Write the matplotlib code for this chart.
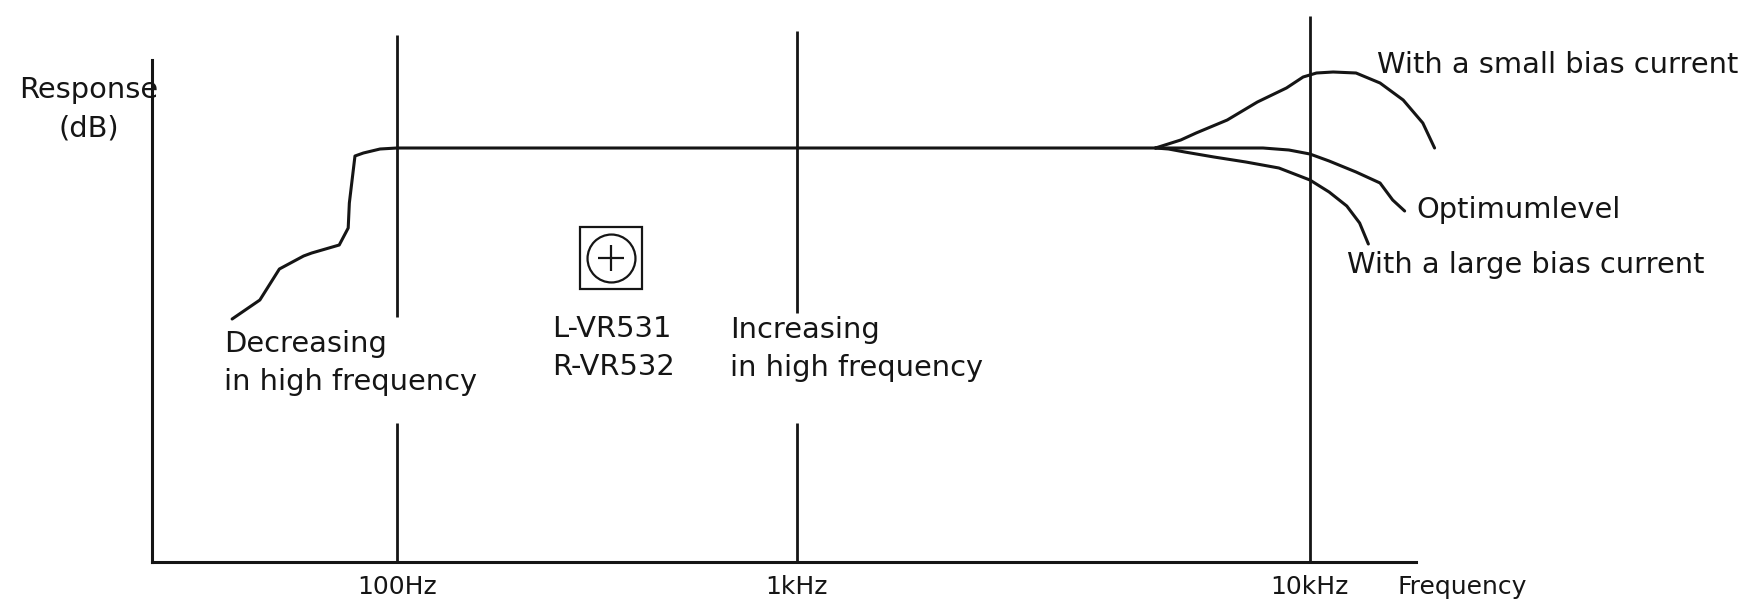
import numpy as np
import matplotlib
matplotlib.use("Agg")
import matplotlib.pyplot as plt
from matplotlib import transforms

# playback response: low-end roll-off, then flat until the bias curves split
base_freq = [38.7, 45.4, 50.8, 58.4, 61.2, 71.7, 75.5, 76, 78.5, 82.4, 90.7, 100, 5000]
base_db = [-8.55, -7.6, -6.05, -5.4, -5.25, -4.85, -4.0, -2.75, -0.4, -0.25, -0.05, 0, 0]

small_freq = [5000, 5600, 6000, 6900, 7900, 9000, 9700, 10300, 11100, 12300, 13700, 15200, 16600, 17500]
small_db = [0.0, 0.4, 0.75, 1.4, 2.3, 3.0, 3.55, 3.75, 3.8, 3.75, 3.25, 2.4, 1.25, 0.0]

opt_freq = [5000, 5300, 8100, 9100, 10000, 10900, 12300, 13700, 14500, 15300]
opt_db = [0, 0, 0, -0.1, -0.3, -0.65, -1.2, -1.75, -2.6, -3.15]

large_freq = [5000, 5300, 5700, 6500, 7500, 8700, 10000, 10900, 11800, 12500, 13000]
large_db = [0, -0.05, -0.2, -0.45, -0.7, -1.0, -1.6, -2.2, -2.9, -3.75, -4.8]

tick_freq = [100, 1000, 10000]
tick_labels = ["100Hz", "1kHz", "10kHz"]

INK = "#151515"
FS = 20.8
LS = 1.45

# hand-drawn frequency axis: the 1k-10k decade is drawn wider than the others
dec_log = [0, 2, 3, 6]
dec_pos = [-2, 0, 1, 1 + 3 * 1.2825]


def fwd(f):
    f = np.clip(np.asarray(f, dtype=float), 1e-3, None)
    return np.interp(np.log10(f), dec_log, dec_pos)


def inv(p):
    return 10 ** np.interp(p, dec_pos, dec_log)


fig = plt.figure(figsize=(17.48, 6), dpi=100)
ax = fig.add_axes([152 / 1748, 38 / 600, (1416 - 152) / 1748, (562 - 60) / 600])
ax.set_xscale("function", functions=(fwd, inv))
ax.set_xlim(24.4, 16100)
ax.set_ylim(-20.7, 4.4)

for s in ["top", "right"]:
    ax.spines[s].set_visible(False)
for s in ["left", "bottom"]:
    ax.spines[s].set_linewidth(2.2)
    ax.spines[s].set_color(INK)
ax.set_xticks([])
ax.set_yticks([])
ax.xaxis.set_minor_locator(matplotlib.ticker.NullLocator())

# decade marker lines (first two broken where the captions sit)
y0 = -20.7
line_top = [5.65, 5.85, 6.6]
gaps = [(-8.45, -13.75), (-8.25, -13.75), None]
for f, top, g in zip(tick_freq, line_top, gaps):
    if g is None:
        ax.vlines(f, y0, top, color=INK, lw=2.0, clip_on=False)
    else:
        ax.vlines([f, f], [g[0], y0], [top, g[1]], color=INK, lw=2.0, clip_on=False)

kw = dict(color=INK, lw=2.2, clip_on=False, solid_joinstyle="round", solid_capstyle="round")
ax.plot(base_freq, base_db, **kw)
ax.plot(small_freq, small_db, **kw)
ax.plot(opt_freq, opt_db, **kw)
ax.plot(large_freq, large_db, **kw)

# frequency labels under the axis
tx = transforms.blended_transform_factory(ax.transData, fig.transFigure)
for f, lab in zip(tick_freq, tick_labels):
    ax.text(f, 0.01, lab, transform=tx, ha="center", va="baseline", fontsize=18, color=INK)
fig.text(1397 / 1748, 0.01, "Frequency", ha="left", va="baseline", fontsize=18, color=INK)

txt = dict(va="baseline", fontsize=FS, color=INK, linespacing=LS)
fig.text(89 / 1748, 1 - 136 / 600, "Response\n(dB)", ha="center",
         multialignment="center", **txt)
fig.text(224 / 1748, 1 - 390 / 600, "Decreasing\nin high frequency", ha="left", **txt)
fig.text(552 / 1748, 1 - 375 / 600, "L-VR531\nR-VR532", ha="left", **txt)
fig.text(730 / 1748, 1 - 376 / 600, "Increasing\nin high frequency", ha="left", **txt)
fig.text(1377 / 1748, 1 - 73 / 600, "With a small bias current", ha="left", **txt)
fig.text(1416 / 1748, 1 - 218 / 600, "Optimumlevel", ha="left", **txt)
fig.text(1347 / 1748, 1 - 273 / 600, "With a large bias current", ha="left", **txt)

# trimmer symbol: boxed circle with a plus
sx, sy = 611 / 1748, 1 - 258 / 600
sym = dict(transform=fig.transFigure, clip_on=False, color=INK, mfc="none", mew=1.6, ls="none")
ax.plot([sx], [sy], marker="s", ms=44, **sym)
ax.plot([sx], [sy], marker="o", ms=34.5, **sym)
ax.plot([sx], [sy], marker="+", ms=19, **sym)

fig.savefig("out.png", dpi=100, facecolor="white")
